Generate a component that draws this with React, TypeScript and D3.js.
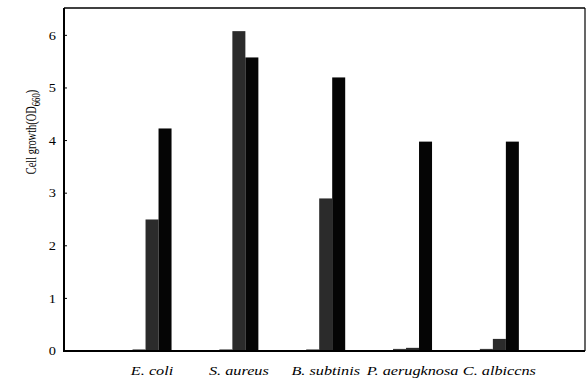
import React from "react";
import * as d3 from "d3";

const strains = ["E. coli", "S. aureus", "B. subtinis", "P. aerugknosa", "C. albiccns"];
const seriesA = [0.03, 0.03, 0.03, 0.04, 0.04];
const seriesB = [2.5, 6.08, 2.9, 0.06, 0.23];
const seriesC = [4.23, 5.58, 5.2, 3.98, 3.98];
const yTicks = [0, 1, 2, 3, 4, 5, 6];

const W = 588;
const H = 381;
const margin = { top: 8, right: 3, bottom: 30, left: 64 };
const barW = 13;

export default function App() {
  const x = d3
    .scaleLinear()
    .domain([0, strains.length + 1])
    .range([margin.left + 1.2, W - margin.right + 1.2]);
  const y = d3
    .scaleLinear()
    .domain([0, 6.52])
    .range([H - margin.bottom, margin.top]);

  const series = [
    { values: seriesA, fill: "#3a3a3a", offset: -1 },
    { values: seriesB, fill: "#2b2b2b", offset: 0 },
    { values: seriesC, fill: "#050505", offset: 1 },
  ];

  const y0 = y(0);
  const xr = W - margin.right;
  const font = "'Liberation Serif', 'Times New Roman', serif";

  return (
    <svg width={W} height={H} style={{ position: "absolute", left: 0, top: 0 }}>
      <rect width={W} height={H} fill="#fff" />

      {series.map((s, si) =>
        s.values.map((v, i) => (
          <rect
            key={`${si}-${i}`}
            x={x(i + 1) + s.offset * barW - barW / 2}
            y={y(v)}
            width={barW}
            height={y0 - y(v)}
            fill={s.fill}
          />
        ))
      )}

      {/* frame */}
      <line x1={margin.left} x2={margin.left} y1={margin.top} y2={y0 + 1} stroke="#000" strokeWidth={2} />
      <line x1={margin.left} x2={xr} y1={y0} y2={y0} stroke="#000" strokeWidth={2} />
      <line x1={margin.left} x2={xr} y1={margin.top} y2={margin.top} stroke="#000" strokeWidth={1.6} />
      <line x1={xr} x2={xr} y1={margin.top} y2={y0} stroke="#000" strokeWidth={1.2} />

      {yTicks.map((t) => (
        <g key={t} transform={`translate(0,${y(t)})`}>
          <line x1={margin.left} x2={margin.left + 3} stroke="#000" strokeWidth={1} />
          <text
            transform={`translate(${margin.left - 8},0) scale(1.2,1)`}
            dy="0.35em"
            textAnchor="end"
            fontFamily={font}
            fontSize={12}
            fill="#000"
          >
            {t}
          </text>
        </g>
      ))}

      {strains.map((s, i) => (
        <text
          key={s}
          transform={`translate(${x(i + 1)},375) scale(1.25,1)`}
          textAnchor="middle"
          fontFamily={font}
          fontStyle="italic"
          fontSize={13}
          fill="#000"
        >
          {s}
        </text>
      ))}

      <text
        transform={`translate(36,132) rotate(-90) scale(0.87,1.2)`}
        textAnchor="middle"
        fontFamily={font}
        fontSize={12}
        fill="#000"
      >
        Cell growth(OD
        <tspan fontSize={10} dy={3.5}>660</tspan>
        <tspan dy={-3.5}>)</tspan>
      </text>
    </svg>
  );
}
